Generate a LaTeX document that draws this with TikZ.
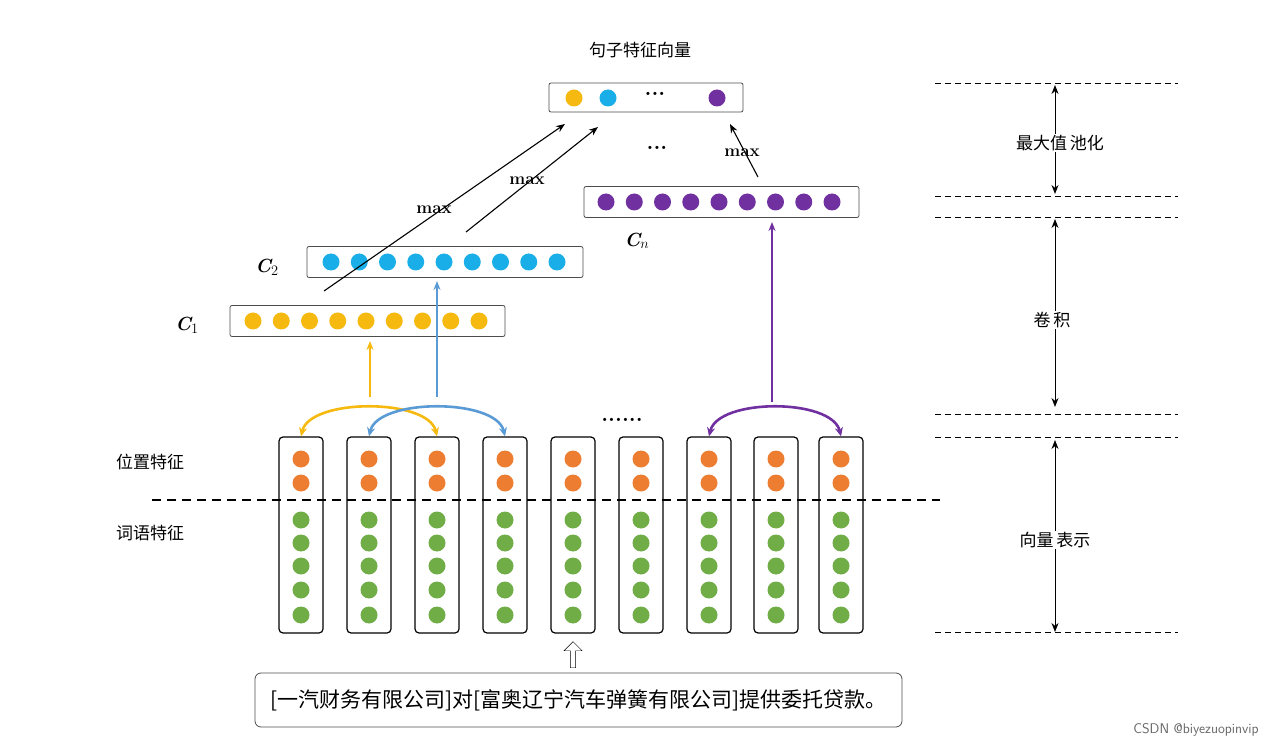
\documentclass[tikz,border=0pt]{standalone}
\usepackage{fontspec}
\newfontfamily\cjk{Noto Sans CJK SC}
\usetikzlibrary{arrows.meta,shapes.arrows}
\definecolor{cy}{HTML}{F5B90F}
\definecolor{cb}{HTML}{1AAEE8}
\definecolor{cp}{HTML}{7030A0}
\definecolor{co}{HTML}{ED7D31}
\definecolor{cg}{HTML}{70AD47}
\definecolor{ab}{HTML}{5B9BD5}
\begin{document}
\begin{tikzpicture}[x=1pt,y=-1pt,
  bar/.style={draw=black!70,rounded corners=2pt,line width=0.8pt},
  col/.style={draw,rounded corners=4pt,line width=1.2pt,minimum width=44pt,minimum height=196pt},
  dot/.style={circle,inner sep=0pt,minimum width=15pt,minimum height=17pt},
  lab/.style={font=\cjk\fontsize{17}{17}\selectfont},
  mx/.style={font=\bfseries\fontsize{17}{17}\selectfont},
  cl/.style={font=\bfseries\itshape\fontsize{19}{19}\selectfont},
  big/.style={font=\bfseries\fontsize{22}{22}\selectfont},
  ar/.style={-{Stealth[length=9pt,width=7pt]},line width=1.1pt},
  dd/.style={dashed,line width=0.8pt,dash pattern=on 6pt off 4pt},
  dbl/.style={{Stealth[length=9pt,width=7pt]}-{Stealth[length=9pt,width=7pt]},line width=1pt}]
\useasboundingbox (0,0) rectangle (1275,751);
% columns
\foreach \x [count=\i] in {301,369,437,505,573,641,709,776,841}{
  \node[col] (k\i) at (\x,535) {};
  \foreach \y in {459,483} \node[dot,fill=co] at (\x,\y) {};
  \foreach \y in {520,543,566,590,615} \node[dot,fill=cg] at (\x,\y) {};
}
\draw[dd,line width=1.5pt,dash pattern=on 9pt off 6pt] (152,500) -- (940,500);
\node[lab] (pos) at (150,462) {位置特征};
\node[lab] (wrd) at (150,533) {词语特征};
\node[big] (dots6) at (622,420) {......};
% bars
\node[bar,minimum width=275pt,minimum height=31pt] (c1) at (367.5,321) {};
\foreach \i in {0,...,8} \node[dot,fill=cy] at (253+28.25*\i,321) {};
\node[bar,minimum width=276pt,minimum height=31pt] (c2) at (445,262) {};
\foreach \i in {0,...,8} \node[dot,fill=cb] at (331+28.25*\i,262) {};
\node[bar,minimum width=275pt,minimum height=31pt] (cn) at (721.5,202) {};
\foreach \i in {0,...,8} \node[dot,fill=cp] at (606+28.25*\i,202) {};
\node[bar,minimum width=194pt,minimum height=29pt] (top) at (646,97.5) {};
\node[dot,fill=cy] at (574,98) {};
\node[dot,fill=cb] at (608,98) {};
\node[dot,fill=cp] at (717,98) {};
\node[big] (tdots) at (655,94) {...};
\node[lab] (title) at (640,50) {句子特征向量};
\node[cl] (l1) at (187,325) {C$_1$};
\node[cl] (l2) at (267,267) {C$_2$};
\node[cl] (ln) at (637,241) {C$_n$};
% max arrows
\coordinate (m1s) at (324,291); \coordinate (m1e) at (565,124);
\coordinate (m2s) at (466,232); \coordinate (m2e) at (598,127);
\coordinate (m3s) at (758,177); \coordinate (m3e) at (730,124);
\draw[ar] (m1s) -- (m1e);
\draw[ar] (m2s) -- (m2e);
\draw[ar] (m3s) -- (m3e);
\node[mx] (x1) at (434,210) {max};
\node[mx] (x2) at (527,181) {max};
\node[mx] (x3) at (742,153) {max};
\node[big] (mdots) at (657,148) {...};
% up arrows
\coordinate (ya) at (370,397); \coordinate (ba) at (437,397); \coordinate (pa) at (772,402);
\draw[ar,cy,line width=2.6pt] (ya) -- (370,341);
\draw[ar,ab,line width=2.6pt] (ba) -- (437,281);
\draw[ar,cp,line width=2.6pt] (pa) -- (772,222);
% arcs
\draw[cy,line width=2.6pt,{Stealth[length=9pt,width=8pt]}-{Stealth[length=9pt,width=8pt]}] (k1.north) .. controls (310,398) and (428,398) .. (k3.north);
\draw[ab,line width=2.6pt,{Stealth[length=9pt,width=8pt]}-{Stealth[length=9pt,width=8pt]}] (k2.north) .. controls (378,398) and (496,398) .. (k4.north);
\draw[cp,line width=2.6pt,{Stealth[length=9pt,width=8pt]}-{Stealth[length=9pt,width=8pt]}] (k7.north) .. controls (718,398) and (832,398) .. (k9.north);
% sentence
\node[draw=black!70,rounded corners=6pt,line width=0.8pt,minimum width=647pt,minimum height=54pt,font=\cjk\fontsize{21}{21}\selectfont] (sent) at (578.5,700) {[一汽财务有限公司]对[富奥辽宁汽车弹簧有限公司]提供委托贷款。};
\node[single arrow,draw,shape border rotate=90,minimum height=26pt,minimum width=18pt,single arrow head extend=3pt,inner sep=1pt] (ha) at (573,656) {};
% right scale
\foreach \y in {83,196,217,414,437,632} \draw[dd] (935,\y) -- (1178,\y);
\draw[dbl] (1055,85) -- (1055,194);
\draw[dbl] (1055,219) -- (1055,407);
\draw[dbl] (1055,440) -- (1055,632);
\node[lab,fill=white,inner sep=1pt] (r1) at (1060,143) {最大值\,池化};
\node[lab,fill=white,inner sep=1pt] (r2) at (1052,320) {卷\,积};
\node[lab,fill=white,inner sep=1pt] (r3) at (1055,540) {向量\,表示};
\node[font=\sffamily\fontsize{14}{14}\selectfont,text=black!60] (wm) at (1196,730) {CSDN @biyezuopinvip};
\end{tikzpicture}
\end{document}
